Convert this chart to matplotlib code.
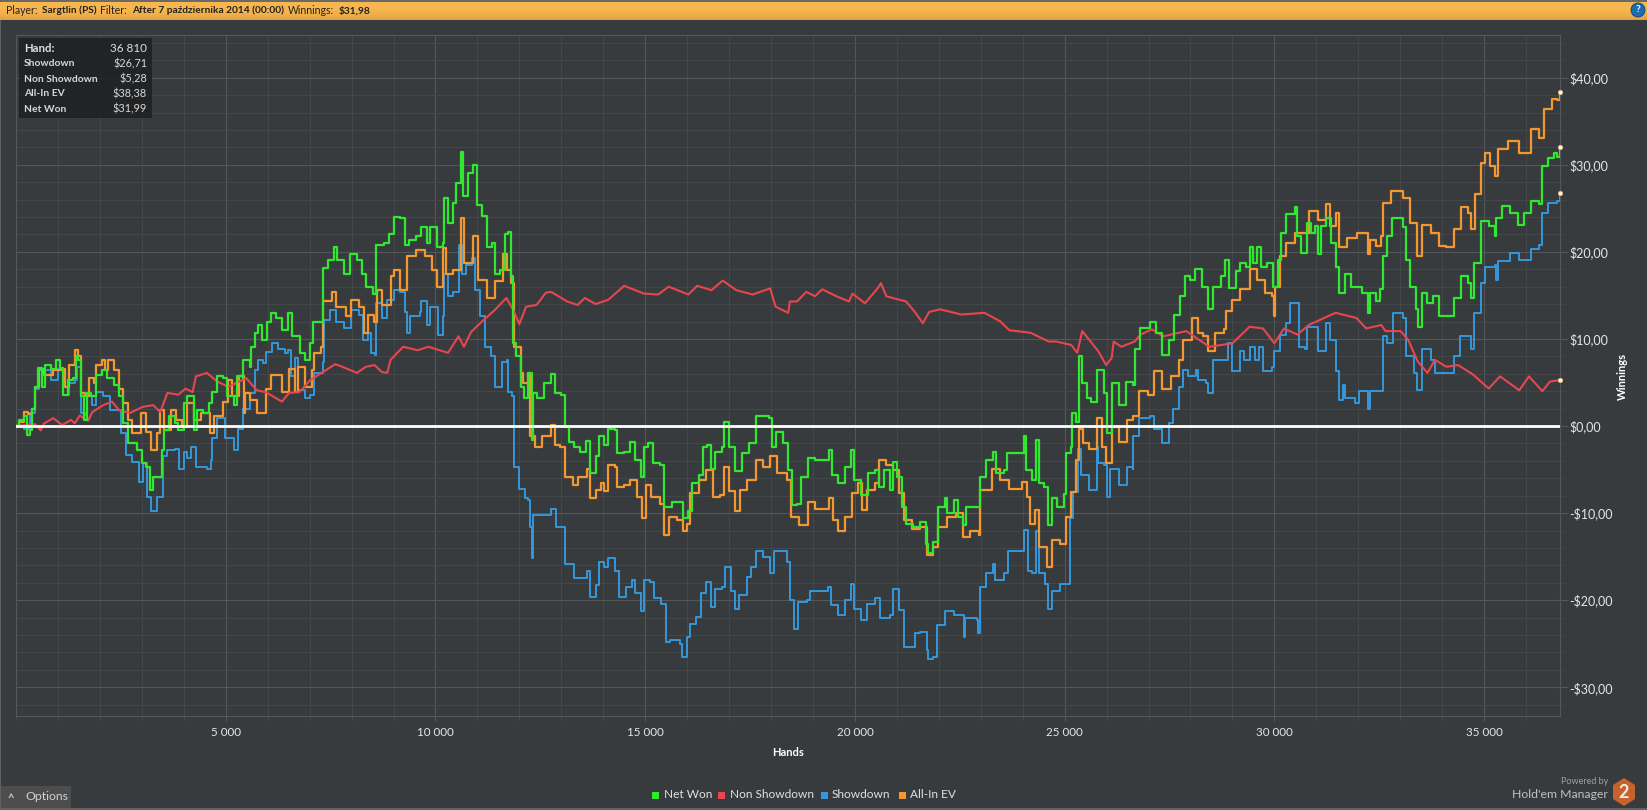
"""
Hold'em Manager 2 winnings graph, redrawn with matplotlib
"""
import matplotlib
matplotlib.use("Agg")
import matplotlib.pyplot as plt
from matplotlib.patches import Rectangle, Circle, Polygon
from matplotlib.ticker import FuncFormatter, MultipleLocator
import numpy as np

# Values: hands in thousands, winnings in dollars
net_won_k = [0, .08, .2, .27, .33, .39, .46, .53, .61, .7, .84, .95, 1.06, 1.11, 1.23, 1.35, 1.42, 1.48, 1.55, 1.62, 1.7, 1.78, 1.91, 2.04, 2.16, 2.33, 2.46, 2.55, 2.67, 2.89, 3.0, 3.1, 3.2, 3.27, 3.4, 3.48, 3.53, 3.65, 3.78, 3.87, 4.0, 4.08, 4.25, 4.31, 4.46, 4.59, 4.68, 4.8, 4.93, 5.02, 5.19, 5.27, 5.4, 5.42, 5.57, 5.61, 5.7, 5.78, 5.87, 5.98, 6.08, 6.21, 6.34, 6.49, 6.59, 6.76, 6.89, 7.02, 7.09, 7.23, 7.32, 7.44, 7.57, 7.66, 7.83, 7.97, 8.13, 8.25, 8.34, 8.51, 8.59, 8.77, 8.89, 9.02, 9.15, 9.28, 9.36, 9.53, 9.66, 9.79, 9.87, 10.04, 10.17, 10.2, 10.3, 10.43, 10.49, 10.6, 10.66, 10.77, 10.9, 10.98, 11.11, 11.23, 11.35, 11.41, 11.53, 11.66, 11.72, 11.79, 11.86, 11.92, 12.03, 12.12, 12.2, 12.29, 12.33, 12.41, 12.59, 12.76, 12.84, 12.99, 13.08, 13.18, 13.31, 13.44, 13.59, 13.69, 13.82, 13.9, 14.03, 14.12, 14.27, 14.33, 14.5, 14.64, 14.75, 14.9, 14.97, 15.07, 15.18, 15.35, 15.46, 15.65, 15.9, 16.03, 16.11, 16.28, 16.37, 16.48, 16.58, 16.67, 16.82, 16.89, 17.0, 17.14, 17.3, 17.47, 17.64, 17.81, 17.96, 18.03, 18.11, 18.28, 18.41, 18.49, 18.62, 18.71, 18.88, 19.05, 19.39, 19.46, 19.6, 19.77, 19.9, 19.98, 20.15, 20.32, 20.49, 20.58, 20.7, 20.83, 20.9, 21.0, 21.13, 21.22, 21.39, 21.56, 21.69, 21.75, 21.85, 21.98, 22.15, 22.19, 22.36, 22.45, 22.58, 22.66, 22.92, 22.98, 23.13, 23.3, 23.37, 23.55, 23.62, 23.81, 24.02, 24.08, 24.23, 24.32, 24.39, 24.51, 24.6, 24.7, 24.83, 24.98, 25.04, 25.16, 25.18, 25.26, 25.35, 25.42, 25.53, 25.62, 25.76, 25.94, 26.01, 26.12, 26.3, 26.46, 26.62, 26.67, 26.79, 27.03, 27.17, 27.33, 27.49, 27.61, 27.76, 27.86, 27.99, 28.11, 28.27, 28.43, 28.54, 28.72, 28.83, 28.92, 29.09, 29.18, 29.32, 29.43, 29.5, 29.59, 29.68, 29.82, 29.97, 30.09, 30.16, 30.27, 30.5, 30.55, 30.64, 30.78, 30.87, 30.96, 31.05, 31.11, 31.23, 31.34, 31.46, 31.53, 31.69, 31.83, 32.1, 32.24, 32.28, 32.42, 32.51, 32.58, 32.69, 32.81, 33.06, 33.15, 33.24, 33.38, 33.42, 33.51, 33.65, 33.79, 33.92, 34.1, 34.29, 34.44, 34.61, 34.7, 34.76, 34.93, 35.11, 35.27, 35.29, 35.43, 35.61, 35.81, 35.95, 36.11, 36.3, 36.39, 36.52, 36.66, 36.75, 36.81]
net_won_usd = [0, .7, 1.1, -1.0, -.5, 2.0, 4.5, 6.7, 4.5, 7.0, 6.6, 7.6, 6.7, 3.6, 5.3, 5.5, 8.0, 7.6, 3.4, .7, 3.8, 3.4, 5.9, 6.4, 5.5, 4.7, 3.4, .3, -2.0, -2.8, -4.3, -4.7, -7.4, -5.8, -5.8, -2.8, -.5, 1.1, .3, -.5, 2.6, 3.4, -.5, 1.8, 1.5, 2.6, 3.9, 5.7, 5.5, 3.4, 2.4, 5.7, 5.5, 7.6, 6.8, 9.1, 10.7, 11.6, 9.9, 12.0, 13.0, 12.4, 11.0, 13.0, 10.3, 8.4, 7.6, 9.5, 12.0, 12.0, 18.1, 19.1, 20.6, 19.1, 17.5, 19.8, 19.1, 17.5, 16.0, 15.2, 20.8, 21.0, 22.1, 24.0, 23.9, 20.8, 21.4, 21.8, 22.9, 21.0, 22.9, 20.6, 21.0, 26.2, 23.3, 25.6, 27.9, 31.5, 26.4, 29.0, 30.0, 25.4, 24.1, 20.6, 21.0, 17.5, 17.9, 22.0, 22.3, 17.2, 9.5, 8.0, 4.5, 3.2, 6.1, -1.6, 3.8, 3.2, 4.9, 6.0, 3.8, 3.6, -.1, -1.8, -2.4, -3.0, -1.7, -5.4, -3.5, -1.2, -2.2, -.3, -.5, -3.1, -3.0, -1.8, -3.9, -5.8, -2.4, -2.0, -4.3, -4.5, -9.3, -8.7, -10.6, -9.8, -6.6, -5.6, -2.4, -2.2, -4.9, -3.0, -2.4, .5, -2.4, -5.2, -3.1, -2.0, 1.1, 1.1, .9, -2.4, -.7, -2.0, -5.1, -9.1, -8.9, -5.8, -3.7, -3.9, -2.8, -5.6, -6.6, -4.7, -2.8, -6.2, -7.9, -5.4, -5.1, -7.0, -5.1, -7.4, -4.1, -5.8, -9.3, -11.2, -11.6, -11.0, -13.5, -14.6, -13.3, -9.3, -8.3, -10.0, -8.5, -10.4, -11.4, -9.3, -9.3, -5.8, -3.9, -3.0, -5.4, -5.1, -3.1, -3.1, -1.2, -5.1, -6.2, -1.6, -6.6, -7.0, -11.4, -8.3, -9.3, -7.8, -3.1, -2.4, 1.5, .5, 8.0, 4.9, 3.2, 2.8, 6.4, 3.8, -.8, 4.9, 2.4, 5.1, 4.7, 8.8, 11.2, 12.0, 10.7, 8.2, 9.9, 12.8, 14.9, 17.2, 16.8, 18.0, 16.0, 13.4, 16.0, 17.2, 19.1, 15.9, 17.8, 18.7, 18.3, 20.5, 18.7, 20.5, 18.3, 18.7, 16.0, 19.1, 22.2, 24.3, 25.1, 21.8, 19.9, 23.3, 22.2, 23.0, 19.7, 23.0, 23.9, 21.0, 18.3, 15.3, 17.4, 16.0, 15.3, 13.0, 15.3, 14.3, 15.7, 19.5, 21.8, 23.9, 22.8, 19.1, 16.0, 13.4, 11.4, 15.3, 14.1, 14.9, 12.6, 12.6, 14.7, 17.2, 16.4, 14.7, 18.7, 23.5, 23.0, 21.8, 23.9, 25.3, 24.5, 23.1, 24.5, 25.8, 25.5, 29.9, 30.8, 31.4, 30.9, 32.0]

non_showdown_k = [0, .46, .59, .67, .89, 1.1, 1.31, 1.4, 1.52, 1.72, 1.82, 2.08, 2.29, 2.46, 2.72, 3.02, 3.27, 3.44, 3.61, 3.87, 4.04, 4.21, 4.29, 4.55, 4.8, 5.06, 5.49, 5.74, 5.95, 6.34, 6.51, 6.76, 7.02, 7.32, 7.61, 7.78, 8.13, 8.34, 8.55, 8.72, 8.85, 8.93, 9.23, 9.57, 9.83, 10.3, 10.55, 10.68, 10.85, 11.11, 11.41, 11.69, 11.86, 12.0, 12.16, 12.41, 12.63, 12.76, 13.14, 13.39, 13.56, 13.82, 14.12, 14.5, 14.97, 15.31, 15.56, 16.03, 16.24, 16.58, 16.85, 17.17, 17.56, 17.98, 18.11, 18.41, 18.45, 18.62, 18.84, 19.05, 19.22, 19.56, 19.86, 19.94, 20.24, 20.54, 20.62, 20.75, 21.22, 21.43, 21.62, 21.77, 22.03, 22.54, 23.09, 23.47, 23.68, 24.19, 24.62, 24.8, 25.16, 25.3, 25.42, 25.62, 25.8, 25.99, 26.12, 26.17, 26.35, 26.67, 26.81, 27.08, 27.35, 27.9, 28.45, 29.0, 29.41, 29.73, 30.0, 30.23, 30.55, 30.82, 31.46, 31.96, 32.19, 32.55, 32.65, 33.01, 33.19, 33.42, 33.65, 33.83, 34.1, 34.38, 34.74, 35.11, 35.38, 35.84, 36.07, 36.39, 36.57, 36.81]
non_showdown_usd = [0, .2, -.5, .3, .9, .1, .7, .3, 1.2, .6, 1.6, 2.4, 2.8, 1.8, 1.5, 2.2, 2.4, 1.6, 3.8, 3.6, 4.3, 3.9, 5.7, 6.1, 5.1, 4.5, 5.5, 4.1, 3.9, 2.8, 3.8, 3.9, 5.3, 6.2, 7.1, 6.8, 6.1, 6.8, 7.0, 6.2, 6.1, 7.6, 9.1, 8.7, 9.1, 8.4, 10.3, 9.1, 10.8, 12.0, 13.3, 14.7, 13.3, 11.7, 13.7, 13.9, 15.3, 15.4, 14.3, 13.9, 14.7, 14.0, 14.5, 16.1, 15.2, 15.1, 16.0, 15.1, 16.1, 15.6, 16.7, 15.6, 15.1, 15.8, 13.7, 13.0, 14.3, 14.3, 15.4, 14.9, 15.7, 14.9, 14.3, 15.2, 14.1, 15.8, 16.4, 14.9, 14.3, 13.1, 11.8, 13.1, 13.4, 12.8, 13.0, 12.0, 11.0, 10.7, 9.7, 9.7, 9.3, 8.4, 10.9, 9.7, 8.6, 7.0, 7.8, 9.7, 9.1, 9.7, 10.5, 11.1, 10.3, 10.9, 9.1, 9.5, 11.4, 11.2, 9.5, 11.2, 10.5, 11.6, 13.0, 12.4, 11.2, 11.6, 10.9, 10.9, 9.9, 7.4, 6.1, 7.6, 6.8, 7.0, 5.9, 4.3, 5.7, 4.1, 5.7, 4.0, 5.1, 5.28]

showdown_k = [0, .2, .33, .46, .55, .7, .84, 1.01, 1.12, 1.27, 1.41, 1.46, 1.55, 1.64, 1.7, 1.82, 1.91, 2.08, 2.25, 2.44, 2.5, 2.63, 2.76, 2.93, 3.02, 3.12, 3.23, 3.36, 3.5, 3.51, 3.61, 3.78, 3.88, 4.0, 4.08, 4.17, 4.28, 4.55, 4.65, 4.68, 4.8, 4.96, 4.99, 5.19, 5.3, 5.4, 5.42, 5.57, 5.7, 5.78, 5.89, 5.95, 6.1, 6.25, 6.42, 6.49, 6.55, 6.64, 6.72, 6.89, 7.02, 7.1, 7.32, 7.34, 7.49, 7.62, 7.83, 7.99, 8.17, 8.28, 8.38, 8.47, 8.55, 8.58, 8.72, 8.85, 9.02, 9.15, 9.28, 9.32, 9.4, 9.62, 9.66, 9.79, 9.87, 10.07, 10.17, 10.21, 10.3, 10.43, 10.55, 10.64, 10.72, 10.87, 10.94, 11.06, 11.19, 11.32, 11.41, 11.58, 11.7, 11.72, 11.83, 11.87, 12.0, 12.13, 12.21, 12.26, 12.29, 12.33, 12.59, 12.76, 12.88, 13.01, 13.1, 13.31, 13.61, 13.69, 13.82, 13.9, 14.03, 14.12, 14.29, 14.37, 14.54, 14.69, 14.75, 14.91, 14.97, 15.12, 15.22, 15.37, 15.49, 15.6, 15.82, 15.88, 15.99, 16.07, 16.2, 16.33, 16.45, 16.58, 16.67, 16.84, 16.9, 17.05, 17.15, 17.24, 17.43, 17.52, 17.64, 17.81, 17.98, 18.07, 18.2, 18.37, 18.45, 18.54, 18.64, 18.86, 18.92, 19.35, 19.43, 19.6, 19.77, 19.9, 19.98, 20.15, 20.28, 20.49, 20.6, 20.83, 20.92, 21.05, 21.16, 21.3, 21.43, 21.56, 21.73, 21.75, 21.87, 21.96, 22.15, 22.36, 22.6, 22.63, 22.92, 22.94, 22.98, 23.13, 23.3, 23.34, 23.55, 23.64, 23.85, 24.02, 24.13, 24.23, 24.32, 24.4, 24.53, 24.6, 24.7, 24.9, 25.12, 25.21, 25.33, 25.39, 25.57, 25.76, 25.8, 25.94, 26.01, 26.08, 26.3, 26.49, 26.62, 26.64, 26.78, 27.03, 27.13, 27.31, 27.49, 27.58, 27.72, 27.83, 27.95, 28.13, 28.18, 28.36, 28.42, 28.54, 28.81, 28.9, 28.98, 29.18, 29.27, 29.43, 29.54, 29.64, 29.73, 29.95, 30.0, 30.14, 30.27, 30.37, 30.5, 30.59, 30.73, 30.78, 31.0, 31.05, 31.23, 31.32, 31.46, 31.53, 31.64, 31.69, 31.92, 32.01, 32.24, 32.28, 32.51, 32.6, 32.69, 32.83, 33.06, 33.15, 33.33, 33.39, 33.51, 33.74, 33.83, 34.1, 34.29, 34.43, 34.7, 34.76, 34.93, 35.02, 35.25, 35.29, 35.34, 35.61, 35.84, 36.11, 36.3, 36.39, 36.52, 36.75, 36.81]
showdown_usd = [0, -.3, 1.5, 4.3, 6.4, 6.4, 5.3, 6.6, 3.6, 4.9, 5.3, 6.8, 1.5, 1.3, 3.4, 2.4, 3.9, 3.4, 1.8, 1.8, -.8, -3.3, -4.1, -6.4, -4.3, -8.1, -9.8, -8.1, -7.4, -3.5, -2.8, -2.6, -4.9, -3.0, -3.7, -2.4, -4.7, -4.9, -3.9, -1.4, .9, .9, -1.4, -2.8, -.3, -.1, 2.0, 3.8, 6.4, 7.6, 7.2, 8.5, 9.5, 8.9, 8.4, 8.7, 5.7, 7.8, 4.1, 3.2, 3.6, 6.1, 7.4, 12.2, 13.3, 12.0, 11.2, 13.3, 12.8, 9.9, 10.7, 8.4, 8.2, 14.1, 12.4, 14.5, 15.6, 15.4, 13.1, 10.7, 12.6, 13.1, 14.3, 11.6, 13.7, 10.5, 12.6, 17.5, 14.9, 15.4, 20.8, 17.5, 18.5, 19.3, 15.6, 12.6, 9.1, 8.0, 4.5, 7.4, 7.6, 3.9, 3.4, -4.7, -7.2, -8.3, -8.5, -11.6, -15.2, -10.2, -10.2, -9.5, -11.6, -11.6, -15.8, -17.5, -16.6, -19.6, -18.3, -15.6, -16.2, -15.2, -16.6, -19.6, -18.5, -17.7, -19.2, -21.3, -17.7, -17.9, -19.8, -20.4, -24.8, -24.6, -25.0, -26.5, -24.2, -22.7, -21.9, -19.2, -17.9, -20.8, -18.7, -18.5, -16.2, -19.0, -21.0, -19.4, -17.3, -16.2, -14.4, -15.0, -16.9, -14.4, -14.3, -15.6, -20.0, -23.3, -20.2, -20.0, -18.9, -18.5, -20.6, -21.7, -20.0, -18.1, -21.0, -22.3, -20.4, -19.8, -22.1, -21.7, -18.7, -21.1, -25.4, -25.4, -23.8, -23.6, -25.7, -26.7, -26.5, -22.9, -21.3, -21.7, -24.2, -22.1, -22.3, -23.8, -18.5, -16.9, -15.8, -17.7, -16.9, -14.4, -14.3, -11.9, -16.6, -16.9, -12.0, -16.9, -18.1, -21.0, -18.9, -18.1, -10.6, -7.6, -2.6, -5.6, -7.4, -2.4, -4.3, -4.5, -8.1, -4.9, -6.8, -4.7, -4.9, -1.2, .9, 1.1, -.3, -2.0, .3, 2.0, 4.5, 6.4, 5.7, 6.4, 5.3, 4.9, 3.8, 7.6, 7.6, 9.5, 6.3, 8.6, 7.6, 9.1, 7.6, 9.1, 6.3, 6.8, 8.6, 10.5, 11.8, 14.1, 14.1, 9.1, 8.9, 11.4, 11.4, 8.6, 11.8, 9.9, 6.3, 3.0, 4.7, 3.2, 2.6, 4.0, 2.0, 4.0, 4.0, 10.3, 9.5, 13.0, 12.4, 8.0, 6.1, 4.1, 8.8, 7.6, 6.1, 6.1, 8.0, 10.3, 8.8, 13.0, 16.4, 18.3, 18.5, 16.8, 18.9, 19.9, 19.1, 20.3, 20.8, 24.5, 25.6, 25.8, 26.71]

all_in_k = [0, .08, .19, .29, .39, .46, .55, .67, .89, 1.1, 1.17, 1.27, 1.41, 1.49, 1.55, 1.65, 1.74, 1.86, 1.91, 2.04, 2.12, 2.2, 2.33, 2.46, 2.55, 2.67, 2.77, 2.93, 2.97, 3.1, 3.23, 3.36, 3.44, 3.54, 3.7, 3.82, 3.95, 4.08, 4.25, 4.42, 4.63, 4.72, 4.93, 5.06, 5.14, 5.32, 5.44, 5.45, 5.57, 5.74, 5.95, 6.08, 6.34, 6.51, 6.64, 6.72, 6.89, 7.06, 7.1, 7.27, 7.32, 7.53, 7.62, 7.87, 7.99, 8.17, 8.3, 8.38, 8.53, 8.6, 8.72, 8.93, 9.02, 9.15, 9.32, 9.53, 9.74, 9.91, 10.04, 10.17, 10.26, 10.43, 10.6, 10.68, 10.9, 11.02, 11.23, 11.41, 11.62, 11.7, 11.8, 11.87, 12.04, 12.09, 12.2, 12.26, 12.37, 12.54, 12.76, 12.84, 12.97, 13.1, 13.27, 13.4, 13.61, 13.69, 13.82, 13.95, 14.03, 14.12, 14.27, 14.33, 14.5, 14.64, 14.8, 14.92, 15.01, 15.13, 15.35, 15.46, 15.56, 15.77, 15.9, 16.0, 16.07, 16.28, 16.45, 16.62, 16.79, 16.88, 17.0, 17.14, 17.26, 17.43, 17.64, 17.81, 17.98, 18.15, 18.37, 18.47, 18.66, 18.88, 19.05, 19.39, 19.47, 19.6, 19.77, 19.94, 20.07, 20.17, 20.28, 20.49, 20.58, 20.75, 20.92, 21.05, 21.18, 21.35, 21.56, 21.73, 21.85, 21.98, 22.19, 22.4, 22.58, 22.75, 22.95, 22.98, 23.26, 23.47, 23.68, 23.98, 24.11, 24.17, 24.3, 24.4, 24.57, 24.7, 24.9, 25.03, 25.16, 25.27, 25.35, 25.44, 25.57, 25.76, 25.89, 25.99, 26.12, 26.3, 26.49, 26.62, 26.78, 26.99, 27.14, 27.31, 27.54, 27.72, 27.83, 28.04, 28.18, 28.31, 28.43, 28.59, 28.81, 28.84, 29.0, 29.18, 29.43, 29.59, 29.77, 29.95, 29.98, 30.02, 30.14, 30.27, 30.5, 30.82, 31.05, 31.23, 31.32, 31.46, 31.55, 31.73, 31.96, 32.24, 32.28, 32.42, 32.54, 32.6, 32.78, 33.06, 33.24, 33.39, 33.51, 33.74, 33.92, 34.1, 34.29, 34.44, 34.61, 34.7, 34.79, 34.93, 35.02, 35.13, 35.27, 35.34, 35.57, 35.84, 36.11, 36.3, 36.43, 36.62, 36.75, 36.81]
all_in_usd = [0, .5, 1.6, 1.4, 2.0, 4.5, 6.6, 5.9, 6.4, 6.6, 4.5, 7.0, 8.7, 8.0, 3.8, 3.4, 5.5, 4.9, 7.0, 7.6, 6.4, 7.6, 6.4, 4.3, 2.6, .7, -.8, -.8, 1.5, -.7, -2.8, -.8, 1.8, -.5, 1.8, .7, -.1, 2.6, .7, 1.5, -.8, 1.1, 2.8, 5.3, 3.4, 5.7, 1.5, 3.8, 3.0, 1.5, 4.3, 5.9, 3.9, 6.6, 3.9, 6.8, 4.5, 6.4, 8.4, 9.1, 14.3, 15.4, 13.7, 12.6, 14.5, 13.7, 10.7, 12.8, 12.0, 15.6, 13.9, 17.2, 17.9, 15.6, 19.5, 20.2, 19.5, 17.9, 16.0, 20.4, 17.5, 17.9, 23.9, 18.7, 21.8, 16.8, 14.7, 16.6, 19.8, 17.9, 16.4, 9.1, 6.1, 4.9, 6.1, -1.2, -2.4, -1.2, .1, -2.2, -2.4, -5.8, -6.8, -5.8, -4.9, -8.3, -7.4, -6.6, -7.5, -4.5, -4.7, -7.0, -6.8, -6.2, -8.1, -10.6, -6.8, -8.1, -8.9, -12.5, -10.4, -10.8, -12.1, -11.2, -7.7, -6.2, -5.1, -8.1, -7.9, -4.7, -7.5, -9.8, -7.4, -6.2, -3.9, -4.7, -3.5, -5.4, -6.2, -10.4, -11.4, -8.7, -9.5, -8.3, -10.8, -12.0, -10.4, -7.7, -6.6, -9.7, -7.4, -6.6, -3.9, -4.5, -5.1, -7.7, -10.8, -11.8, -11.6, -14.8, -13.9, -11.6, -10.4, -10.0, -12.7, -12.0, -12.5, -7.4, -4.9, -6.2, -7.2, -6.4, -8.1, -11.2, -9.7, -13.9, -16.2, -13.1, -13.5, -10.4, -7.6, -3.9, -.3, -2.0, -2.6, .9, -2.4, -4.3, -.1, -1.8, .7, 1.1, 4.0, 3.6, 6.3, 4.3, 5.7, 7.6, 9.9, 12.4, 10.7, 10.3, 8.6, 10.7, 11.1, 13.2, 14.5, 15.7, 18.0, 16.8, 15.3, 14.9, 12.6, 16.0, 19.5, 21.0, 22.2, 24.7, 23.7, 25.5, 23.0, 24.5, 20.5, 21.6, 22.2, 19.7, 21.4, 20.7, 21.8, 25.6, 27.0, 26.2, 23.3, 19.5, 23.1, 22.2, 20.7, 20.5, 22.6, 25.1, 24.5, 22.6, 26.6, 30.2, 31.4, 29.9, 28.7, 31.8, 32.7, 31.4, 34.1, 33.1, 36.4, 37.5, 37.4, 38.38]

x_ticks = [5000, 10000, 15000, 20000, 25000, 30000, 35000]
y_ticks = [-30, -20, -10, 0, 10, 20, 30, 40]
legend_names = ["Net Won", "Non Showdown", "Showdown", "All-In EV"]
stats_names = ["Showdown", "Non Showdown", "All-In EV", "Net Won"]
stats_values = ["$26,71", "$5,28", "$38,38", "$31,99"]

GREEN = '#30E830'
RED = '#E8464E'
BLUE = '#3498DB'
ORANGE = '#F5972F'
BG = '#383B3E'
MAJOR = '#54575A'
MINOR = '#45484B'
TXT = '#E6E6E6'

plt.rcParams['font.family'] = ['Lato', 'DejaVu Sans']

W, H = 1647, 810
fig = plt.figure(figsize=(W / 100, H / 100), dpi=100, facecolor=BG)

# Plot area, placed by pixels
left, right, top, bottom = 16, 1560, 35, 716
ax = fig.add_axes([left / W, 1 - bottom / H, (right - left) / W, (bottom - top) / H], zorder=1)
ax.set_facecolor(BG)
ax.set_xlim(0, 36810)
ax.set_ylim(-33.3, 44.9)

ax.xaxis.set_major_locator(plt.FixedLocator(x_ticks))
ax.xaxis.set_minor_locator(MultipleLocator(1000))
ax.yaxis.set_major_locator(plt.FixedLocator(y_ticks))
ax.yaxis.set_minor_locator(MultipleLocator(2))
ax.yaxis.tick_right()
ax.xaxis.set_major_formatter(FuncFormatter(lambda v, p: f"{int(v):,}".replace(",", " ")))
ax.yaxis.set_major_formatter(FuncFormatter(
    lambda v, p: (f"-${-v:.2f}" if v < 0 else f"${v:.2f}").replace(".", ",")))

ax.grid(which='major', color=MAJOR, linewidth=0.8)
ax.grid(which='minor', color=MINOR, linewidth=0.7)
ax.set_axisbelow(True)
ax.tick_params(axis='x', which='major', length=3.5, width=0.8, color=MAJOR, labelcolor=TXT, labelsize=8.4, pad=4.5)
ax.tick_params(axis='x', which='minor', length=3.5, width=0.7, color=MINOR)
ax.tick_params(axis='y', which='major', length=5.5, width=0.8, color=MAJOR, labelcolor=TXT, labelsize=9, pad=1.5)
ax.tick_params(axis='y', which='minor', length=3, width=0.7, color=MINOR)
for side in ax.spines.values():
    side.set_color('#55585B')
    side.set_linewidth(0.8)

# Four winnings curves, stepped like the original hand by hand graph
ax.plot(np.array(showdown_k) * 1000, showdown_usd, color=BLUE, linewidth=1.4, drawstyle='steps-post', zorder=3)
ax.plot(np.array(all_in_k) * 1000, all_in_usd, color=ORANGE, linewidth=1.6, drawstyle='steps-post', zorder=4)
ax.plot(np.array(non_showdown_k) * 1000, non_showdown_usd, color=RED, linewidth=1.5, zorder=5)
ax.plot(np.array(net_won_k) * 1000, net_won_usd, color=GREEN, linewidth=1.6, drawstyle='steps-post', zorder=6)

# Zero line on top of everything
ax.axhline(0, color='white', linewidth=2.0, zorder=7)

# Small dots at the end of each curve
for series in (showdown_usd, all_in_usd, non_showdown_usd, net_won_usd):
    ax.plot([36810], [series[-1]], 'o', markersize=3.2, markerfacecolor='#FFF6E0',
            markeredgecolor='#E0B070', markeredgewidth=0.5, zorder=8, clip_on=False)

# Overlay in pixel coordinates for the window furniture
ui = fig.add_axes([0, 0, 1, 1], zorder=5)
ui.set_xlim(0, W)
ui.set_ylim(H, 0)
ui.axis('off')
ui.patch.set_alpha(0)

# Window edges
ui.add_patch(Rectangle((0, 0), W, 2, color='#6A6A6A', lw=0))
ui.add_patch(Rectangle((0, 0), 1, H, color='#5E6164', lw=0))
ui.add_patch(Rectangle((0, H - 2), W, 2, color='#5E6164', lw=0))

# Orange header bar with a soft vertical fade
header_shade = np.linspace(0, 1, 18).reshape(-1, 1)
c1, c2 = np.array([0xF8, 0xB7, 0x4F]) / 255, np.array([0xDE, 0xA0, 0x40]) / 255
header_rgb = c1[None, None, :] * (1 - header_shade[..., None] ** 3) + c2[None, None, :] * header_shade[..., None] ** 3
ui.imshow(header_rgb, extent=(0, W, 20, 2), aspect='auto', zorder=1)
ui.set_xlim(0, W)
ui.set_ylim(H, 0)

header_bits = [(6, "Player:", 'normal'), (42, "Sargtlin (PS)", 'bold'), (100, "Filter:", 'normal'),
               (132, "After 7 października 2014 (00:00)", 'bold'), (288, "Winnings:", 'normal'),
               (339, "$31,98", 'bold')]
for hx, label, weight in header_bits:
    ui.text(hx, 10.5, label, color='#222222', fontsize=7.3 if weight == 'bold' else 7.6,
            fontweight=weight, va='center', zorder=2)

# Help button
ui.add_patch(Circle((1638, 10), 7, facecolor='#1B6DB3', edgecolor='#0F3F70', linewidth=0.6, zorder=2))
ui.text(1638, 10, "?", color='white', fontsize=7.5, fontweight='bold', ha='center', va='center', zorder=3)

# Stats card
ui.add_patch(Rectangle((19, 38), 133, 80, facecolor='#1E1F21', alpha=0.85, lw=0, zorder=2))
ui.text(24, 48, "Hand:", color='#E0E0E0', fontsize=8.2, fontweight='bold', va='center', zorder=3)
ui.text(147, 48, "36 810", color='#E0E0E0', fontsize=8.4, ha='right', va='center', zorder=3)
for i in range(len(stats_names)):
    ui.text(24, 64 + i * 15, stats_names[i], color='#D8D8D8', fontsize=7.4, fontweight='bold',
            va='center', zorder=3)
    ui.text(147, 64 + i * 15, stats_values[i], color='#D8D8D8', fontsize=7.8, ha='right', va='center', zorder=3)

# Axis titles
ui.text(788, 753, "Hands", color='white', fontsize=8, fontweight='bold', ha='center', va='center')
ui.text(1622, 376, "Winnings", color='white', fontsize=8, fontweight='bold', rotation=90,
        ha='center', va='center')

# Legend row
legend_squares = [652, 718, 821, 899]
legend_text_x = [664, 730, 832, 910]
legend_colors = [GREEN, RED, BLUE, ORANGE]
for i in range(4):
    ui.add_patch(Rectangle((legend_squares[i], 792), 6.5, 6.5, color=legend_colors[i], lw=0))
    ui.text(legend_text_x[i], 795, legend_names[i], color='#E0E0E0', fontsize=8.6, va='center')

# Options button
ui.add_patch(Rectangle((1, 786), 70, 22, color='#4D4D4D', lw=0))
ui.text(11, 798, "^", color='#D0D0D0', fontsize=8, fontweight='bold', ha='center', va='center')
ui.text(25, 797, "Options", color='#D0D0D0', fontsize=8.8, va='center')

# Hold'em Manager badge
ui.text(1608, 782, "Powered by", color='#A0A0A0', fontsize=6.5, ha='right', va='center')
ui.text(1608, 794, "Hold'em Manager", color='#C0C0C0', fontsize=8.8, ha='right', va='center')
badge_x = np.array([0, 11, 11, 0, -11, -11]) + 1624
badge_y = np.array([-14, -7, 7, 14, 7, -7]) + 792
ui.add_patch(Polygon(np.column_stack([badge_x, badge_y]), closed=True, facecolor='#C8622B', lw=0))
ui.text(1624, 792, "2", color='#EDEDED', fontsize=13, fontweight='bold', ha='center', va='center')

fig.savefig("out.png", dpi=100, facecolor=fig.get_facecolor())
